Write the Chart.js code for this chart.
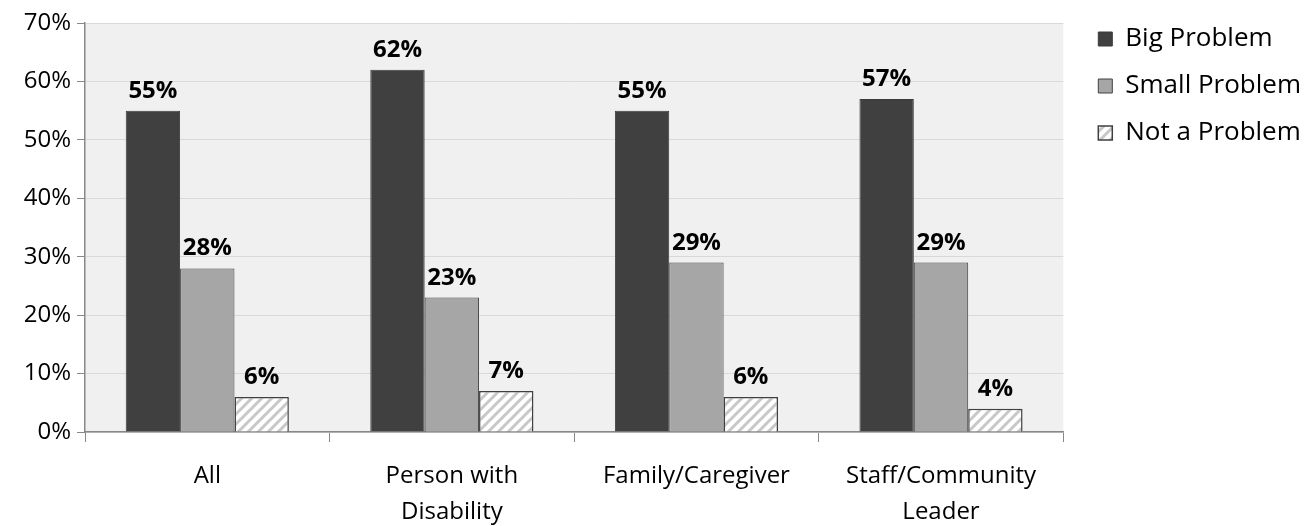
<!DOCTYPE html>
<html>
<head>
<meta charset="utf-8">
<script src="https://cdn.jsdelivr.net/npm/chart.js@4/dist/chart.umd.min.js"></script>
<style>
html,body{margin:0;padding:0;background:#fff;}
#wrap{width:1312px;height:526px;}
</style>
</head>
<body>
<div id="wrap"><canvas id="c" width="1312" height="526"></canvas></div>
<script>
const categories = [["All"], ["Person with", "Disability"], ["Family/Caregiver"], ["Staff/Community", "Leader"]];
const seriesNames = ["Big Problem", "Small Problem", "Not a Problem"];
const bigProblem = [55, 62, 55, 57];
const smallProblem = [28, 23, 29, 29];
const notAProblem = [6, 7, 6, 4];
const yTicks = [0, 10, 20, 30, 40, 50, 60, 70];

const FONT = "'Open Sans', sans-serif";

function hatch() {
  const s = 10;
  const p = document.createElement('canvas');
  p.width = s; p.height = s;
  const g = p.getContext('2d');
  g.fillStyle = '#ffffff';
  g.fillRect(0, 0, s, s);
  g.strokeStyle = '#c8c8c8';
  g.lineWidth = 3;
  g.beginPath();
  g.moveTo(-2, s + 2); g.lineTo(s + 2, -2);
  g.moveTo(-2 - s, s + 2); g.lineTo(2, -2);
  g.moveTo(s - 2, s + 2); g.lineTo(s + 2 + s, -2);
  g.stroke();
  return document.getElementById('c').getContext('2d').createPattern(p, 'repeat');
}

const bgPlugin = {
  id: 'bg',
  afterLayout(chart) {
    if (chart.legend) {
      chart.legend.left += 14;
      chart.legend.right += 14;
      chart.legend.top -= 18;
      chart.legend.bottom -= 18;
    }
  },
  beforeDraw(chart) {
    const {ctx, chartArea: a} = chart;
    ctx.save();
    ctx.fillStyle = '#f0f0f0';
    ctx.fillRect(a.left, a.top, a.right - a.left, a.bottom - a.top);
    ctx.restore();
  }
};

const labelPlugin = {
  id: 'vlabels',
  afterDatasetsDraw(chart) {
    const ctx = chart.ctx;
    ctx.save();
    ctx.font = "bold 24px " + FONT;
    ctx.fillStyle = '#000';
    ctx.textAlign = 'center';
    ctx.textBaseline = 'alphabetic';
    chart.data.datasets.forEach((ds, i) => {
      chart.getDatasetMeta(i).data.forEach((bar, j) => {
        ctx.fillText(ds.data[j] + '%', bar.x, bar.y - 13);
      });
    });
    ctx.restore();
  }
};

new Chart(document.getElementById('c'), {
  type: 'bar',
  data: {
    labels: categories,
    datasets: [
      {label: seriesNames[0], data: bigProblem, backgroundColor: '#404040', borderColor: '#3a3a3a', borderWidth: 1},
      {label: seriesNames[1], data: smallProblem, backgroundColor: '#a6a6a6', borderColor: '#404040', borderWidth: 1},
      {label: seriesNames[2], data: notAProblem, backgroundColor: hatch(), borderColor: '#404040', borderWidth: 1.5}
    ]
  },
  options: {
    responsive: false,
    animation: false,
    layout: {padding: {top: 23, right: 15, left: 0, bottom: 0}},
    datasets: {bar: {categoryPercentage: 0.667, barPercentage: 1}},
    scales: {
      x: {
        afterFit(axis) { axis.height = 94; },
        grid: {drawOnChartArea: false, drawTicks: true, tickLength: 10, color: '#888888'},
        border: {color: '#888888', width: 1.5},
        ticks: {color: '#000', font: {family: FONT, size: 24, lineHeight: 1.5}, padding: 16, maxRotation: 0}
      },
      y: {
        min: 0, max: 70,
        afterFit(axis) { axis.width = 85; },
        afterBuildTicks(axis) { axis.ticks = yTicks.map(v => ({value: v})); },
        grid: {color: '#d9d9d9', tickLength: 8, tickColor: '#888888', lineWidth: 1},
        border: {color: '#888888', width: 1.5},
        ticks: {color: '#000', font: {family: FONT, size: 24}, padding: 6, callback: v => v + '%'}
      }
    },
    plugins: {
      legend: {
        position: 'right',
        align: 'start',
        labels: {
          color: '#000',
          font: {family: FONT, size: 26},
          boxWidth: 14, boxHeight: 14,
          padding: 21
        }
      },
      tooltip: {enabled: false}
    }
  },
  plugins: [bgPlugin, labelPlugin]
});
</script>
</body>
</html>
